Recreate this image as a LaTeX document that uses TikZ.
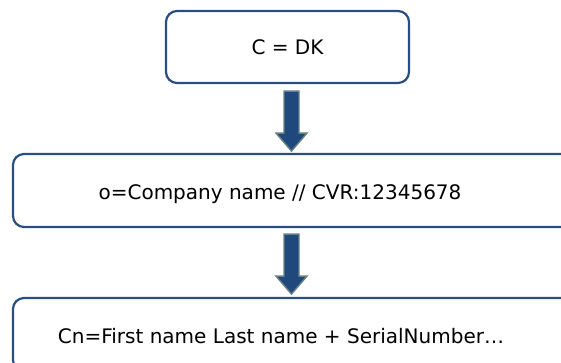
\documentclass[tikz,border=0pt]{standalone}
\usepackage{fontspec}
\setmainfont{DejaVu Sans}
\usetikzlibrary{positioning}

\definecolor{boxblue}{RGB}{41,78,130}
\definecolor{arrowblue}{RGB}{31,73,125}
\definecolor{arrowedge}{RGB}{105,128,128}

\tikzset{
  namebox/.style={draw=boxblue, line width=2.2pt, rounded corners=11pt, fill=white},
  boxtext/.style={font=\fontsize{20}{24}\selectfont, inner sep=0pt},
  flowarrow/.style={fill=arrowblue, draw=arrowedge, line width=1.4pt, line join=miter}
}

% one of the thick down arrows, starting below a node
\newcommand{\flowdown}[1]{%
  \draw[flowarrow] (#1) ++(-3.5,0) -- ++(0,-42) -- ++(-8,0) -- ++(15.5,-18)
    -- ++(15.5,18) -- ++(-8,0) -- ++(0,42) -- cycle;}

\begin{document}
\begin{tikzpicture}[x=1pt, y=1pt]
        \useasboundingbox (0,0) rectangle (561,363);
        \clip (0,0) rectangle (561,363);

        % Define the boxes
        \node[namebox, boxtext, minimum width=243pt, minimum height=72pt] (dk) at (287.5,316) {C = DK};
        \node[namebox, minimum width=577pt, minimum height=73pt] (org) at (301.5,172.5) {};
        \node[namebox, minimum width=577pt, minimum height=73pt] (cn) at (301.5,28.5) {};

        % Texts of the lower boxes
        \node[boxtext, anchor=base] (orgtext) at (280,163) {o=Company name // CVR:12345678};
        \node[boxtext, anchor=base] (cntext) at (281,19) {Cn=First name Last name + SerialNumber…};

        % Define the arrows
        \flowdown{[yshift=-7pt]dk.south}
        \path (org.south -| dk.south) coordinate (orgbelow);
        \flowdown{[yshift=-6pt]orgbelow}

    \end{tikzpicture}
\end{document}
